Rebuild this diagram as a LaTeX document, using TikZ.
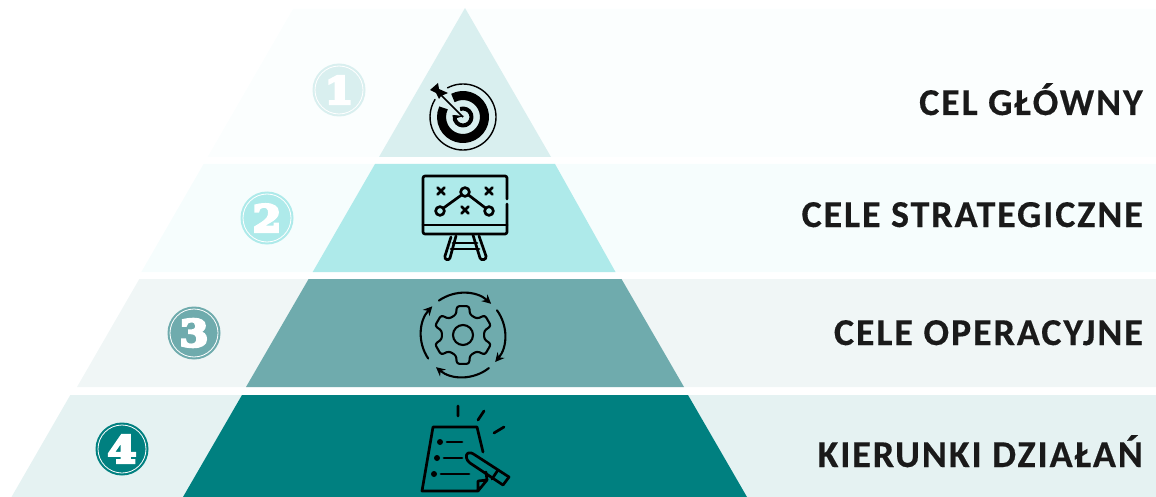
\documentclass[tikz,border=0pt]{standalone}
\usepackage{fontspec}
\usetikzlibrary{arrows.meta}
\newfontfamily\labelfont[LetterSpace=5,FakeBold=0.35]{Carlito Bold}
\newfontfamily\badgefont[FakeBold=7,FakeStretch=1.12]{DejaVu Serif Bold}
\definecolor{bgA}{HTML}{FBFEFE}\definecolor{triA}{HTML}{D9EFEF}
\definecolor{bgB}{HTML}{F6FDFD}\definecolor{triB}{HTML}{AEEAEA}
\definecolor{bgC}{HTML}{F0F6F6}\definecolor{triC}{HTML}{6FABAD}
\definecolor{bgD}{HTML}{E5F2F2}\definecolor{triD}{HTML}{008080}
\definecolor{ink}{HTML}{1A1A1A}
\tikzset{
  tierlabel/.style={anchor=base east,inner sep=0pt,text=ink,font=\labelfont\fontsize{38}{38}\selectfont},
  badge/.style={circle,minimum size=53pt,inner sep=0pt,fill=#1,text=white,font=\badgefont\fontsize{37}{37}\selectfont},
  ring/.style={draw=white,line width=.8pt,fill=none},
  icon/.style={draw=black,line width=2.7pt,line cap=round,line join=round,fill=none},
}
\begin{document}
\begin{tikzpicture}[x=1pt,y=-1pt]
\useasboundingbox (0,0) rectangle (1156,497);
% background bands
\fill[bgA] (293,9) -- (1156,9) -- (1156,157) -- (207.6,157) -- cycle;
\fill[bgB] (203.6,164) -- (1156,164) -- (1156,272) -- (141.3,272) -- cycle;
\fill[bgC] (139.3,279) -- (1156,279) -- (1156,387) -- (77,387) -- cycle;
\fill[bgD] (70.3,395) -- (1156,395) -- (1156,497) -- (11.5,497) -- cycle;
% pyramid tiers
\fill[triA] (465,8) -- (551,157) -- (379,157) -- cycle;
\fill[triB] (375,164) -- (555,164) -- (615.5,272) -- (312.7,272) -- cycle;
\fill[triC] (308.6,279) -- (621.5,279) -- (684,387) -- (246,387) -- cycle;
\fill[triD] (242,395) -- (688,395) -- (747,497) -- (183,497) -- cycle;
% badges
\node[badge=triA] (b1) at (339,90) {1};
\draw[ring] (339,90) circle (24);
\node[badge=triB] (b2) at (267,218) {2};
\draw[ring] (267,218) circle (24);
\node[badge=triC] (b3) at (194,333) {3};
\draw[ring] (194,333) circle (24);
\node[badge=triD] (b4) at (122,449) {4};
\draw[ring] (122,449) circle (24);
% labels
\node[tierlabel] (t1) at (1143,115) {CEL GŁÓWNY};
\node[tierlabel] (t2) at (1143,227) {CELE STRATEGICZNE};
\node[tierlabel] (t3) at (1143,345) {CELE OPERACYJNE};
\node[tierlabel] (t4) at (1143,467) {KIERUNKI DZIAŁAŃ};
% icon 1: target
\begin{scope}[shift={(463,117)},x=1pt,y=1pt]
  \draw[icon,line width=1.4pt] (118:33) arc[start angle=118,end angle=-212,radius=33];
  \draw[icon,line width=9pt,line cap=butt] (118:21.5) arc[start angle=118,end angle=-205,radius=21.5];
  \draw[icon,line width=4pt,line cap=butt] (110:8.5) arc[start angle=110,end angle=-190,radius=8.5];
  \draw[triA,line width=4.5pt] (-21,21) -- (0,0);
  \draw[black,line width=1.6pt] (-22,22) -- (0,0);
  \fill[black] (1,1) -- (-11,2) -- (-6,-1) -- cycle;
  \fill[black] (-33,27) -- (-25,34) -- (-24,28) -- (-15,24) -- (-22,21) -- (-24,18) -- (-27,24) -- cycle;
\end{scope}
% icon 2: board
\begin{scope}[icon]
  \draw (507,199) -- (507,178) arc[start angle=0,end angle=-90,radius=2] -- (425,176) arc[start angle=-90,end angle=-180,radius=2] -- (423,232) arc[start angle=180,end angle=90,radius=2] -- (505,234) arc[start angle=90,end angle=0,radius=2] -- (507,204);
  \draw (423,225) -- (507,225);
  \draw (465,192) circle (4.4) (440,211) circle (4.4) (489,211) circle (4.4);
  \draw (461.5,195) -- (443.5,208) (468.5,195) -- (485.5,208);
  \foreach \p in {(441,191),(489,191),(465,210)}
    \draw[shift={\p}] (-3.5,-3.5) -- (3.5,3.5) (-3.5,3.5) -- (3.5,-3.5);
  \draw (451,237) -- (445,256) .. controls (444,260) and (449,261) .. (450,258) -- (456,236);
  \draw (473,235) -- (480,258) .. controls (481,261) and (487,260) .. (486,256) -- (479,236);
  \draw (453,243) -- (477,243) (451,249) -- (479,249);
\end{scope}
% icon 3: gear
\begin{scope}[shift={(463,335)},x=1pt,y=1pt]
  \draw[icon,line width=2.1pt] (0,0) circle (10);
  \draw[icon,line width=2.1pt,rounded corners=2.5pt]
    (71:21.5) -- (78:29.5) -- (102:29.5) -- (109:21.5)
    -- (131:21.5) -- (138:29.5) -- (162:29.5) -- (169:21.5)
    -- (191:21.5) -- (198:29.5) -- (222:29.5) -- (229:21.5)
    -- (251:21.5) -- (258:29.5) -- (282:29.5) -- (289:21.5)
    -- (311:21.5) -- (318:29.5) -- (342:29.5) -- (349:21.5)
    -- (11:21.5) -- (18:29.5) -- (42:29.5) -- (49:21.5) -- cycle;
  \foreach \s/\e in {125/48,36/-40,-52/-130,214/137}
    \draw[icon,line width=2.1pt,-{Stealth[length=9pt,width=9pt]}] (\s:42) arc[start angle=\s,end angle=\e,radius=42];
\end{scope}
% icon 4: checklist
\begin{scope}[icon]
  \draw (483,452) -- (477,427) -- (433,427) -- (422,491) -- (478,491) -- (487,480) -- (478,481) -- (478,491);
  \draw (487,480) -- (486,472);
  \fill[black] (440,442) circle (3) (437,458) circle (3) (434,474) circle (3);
  \draw (447,442) -- (462,442) (444,458) -- (462,458) (441,474) -- (469,474);
  \draw (468,453) .. controls (465,455) and (466,460) .. (470,463) -- (503,485) -- (509,477) -- (475,455) .. controls (472,453) and (470,452) .. (468,453);
  \draw (498,470) -- (492,479);
  \draw (458,406) -- (458,416) (484,411) -- (478,420) (504,427) -- (494,433);
\end{scope}
\end{tikzpicture}
\end{document}
